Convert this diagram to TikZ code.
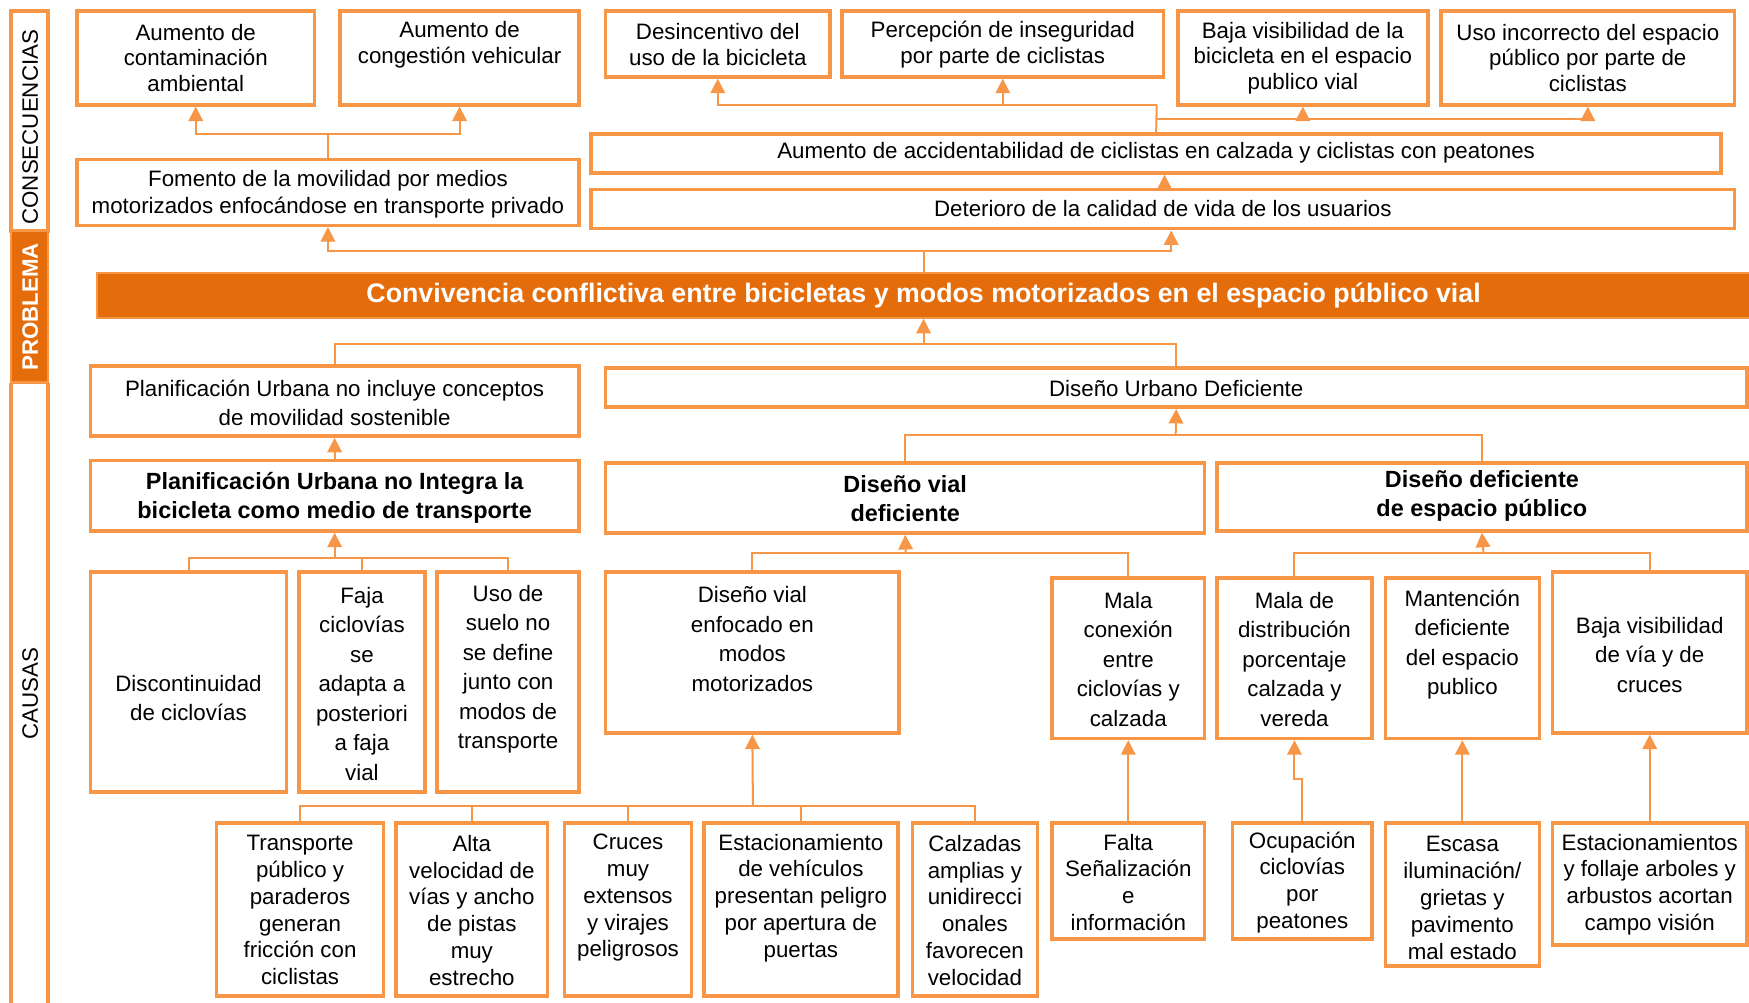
\documentclass[tikz,border=0pt]{standalone}
\usepackage{fontspec}
\setmainfont{Liberation Sans}
\usetikzlibrary{arrows.meta}
\definecolor{ob}{HTML}{F79646}
\definecolor{of}{HTML}{E46C0A}
\tikzset{
  box/.style={draw=ob,line width=1.6pt,inner sep=0pt},
  conn/.style={draw=ob,line width=0.9pt},
  arr/.style={conn,-{Triangle[width=6.5pt,length=6.5pt]}},
  ta/.style={align=center,inner sep=0pt,font=\fontsize{10}{11.5}\selectfont},
  tf/.style={align=center,inner sep=0pt,font=\fontsize{10}{12}\selectfont},
  tm/.style={align=center,inner sep=0pt,font=\fontsize{10}{13.2}\selectfont},
  tp/.style={align=center,inner sep=0pt,font=\fontsize{10}{13}\selectfont},
  tbld/.style={align=center,inner sep=0pt,font=\bfseries\fontsize{10.5}{13}\selectfont},
  side/.style={rotate=90,inner sep=0pt,font=\fontsize{10}{12}\selectfont},
}
\newcommand\bx[8][ta]{%
  \node[box,minimum width={(#5-#3)*0.5pt},minimum height={(#6-#4)*0.5pt}] (#2) at ({(#3+#5)/2},{(#4+#6)/2}) {};
  \node[#1] (#2-t) at ({(#3+#5)/2},#7) {#8};}
\begin{document}
\begin{tikzpicture}[x=0.5pt,y=-0.5pt]
\useasboundingbox (0,0) rectangle (1568,899);
% sidebar
\draw[ob,line width=1.6pt] (10,10) rectangle (43,207);
\filldraw[fill=of,draw=ob,line width=1.2pt] (10,207) rectangle (43,343);
\draw[ob,line width=1.6pt] (10,343) -- (10,899) (43,343) -- (43,899);
\node[side] (s1) at (27,114) {CONSECUENCIAS};
\node[side,text=white,font=\bfseries\fontsize{10}{12}\selectfont] (s2) at (27,275) {PROBLEMA};
\node[side] (s3) at (27,622) {CAUSAS};
% consequences
\bx{c1}{69}{10}{282}{94}{52}{Aumento de\\contaminación\\ambiental}
\bx{c2}{305}{10}{519}{94}{40}{Aumento de\\congestión vehicular}
\bx{c3}{543}{10}{744}{69}{40}{Desincentivo del\\uso de la bicicleta}
\bx{c4}{755}{10}{1043}{69}{40}{Percepción de inseguridad\\por parte de ciclistas}
\bx{c5}{1056}{10}{1280}{94}{52}{Baja visibilidad de la\\bicicleta en el espacio\\publico vial}
\bx{c6}{1292}{10}{1555}{94}{52}{Uso incorrecto del espacio\\público por parte de\\ciclistas}
\bx[tf]{fomento}{69}{143}{519}{202}{174}{Fomento de la movilidad por medios\\motorizados enfocándose en transporte privado}
\bx{accid}{530}{120}{1543}{155}{137}{Aumento de accidentabilidad de ciclistas en calzada y ciclistas con peatones}
\bx{deter}{530}{170}{1555}{205}{187}{Deterioro de la calidad de vida de los usuarios}
% problem
\node[fill=of,draw=ob,line width=0.8pt,inner sep=0pt,minimum width={(1570-87)*0.5pt},minimum height={40*0.5pt}] (prob) at ({(87+1570)/2},265) {};
\node[inner sep=0pt,text=white,font=\bfseries\fontsize{12}{14}\selectfont] (prob-t) at (828,265) {Convivencia conflictiva entre bicicletas y modos motorizados en el espacio público vial};
% causes
\bx[tp]{pinc}{81}{328}{519}{391}{361}{Planificación Urbana no incluye conceptos\\de movilidad sostenible}
\bx{durb}{543}{330}{1566}{365}{348}{Diseño Urbano Deficiente}
\bx[tbld]{pint}{81}{413}{519}{476}{446}{Planificación Urbana no Integra la\\bicicleta como medio de transporte}
\bx[tbld]{dvial}{543}{415}{1080}{478}{447}{Diseño vial\\deficiente}
\bx[tbld]{desp}{1091}{415}{1566}{476}{445}{Diseño deficiente\\de espacio público}
\bx[tm]{disc}{81}{513}{257}{710}{626}{Discontinuidad\\de ciclovías}
\bx[tm]{faja}{268}{513}{381}{710}{613}{Faja\\ciclovías\\se\\adapta a\\posteriori\\a faja\\vial}
\bx[tm]{suelo}{392}{513}{519}{710}{600}{Uso de\\suelo no\\se define\\junto con\\modos de\\transporte}
\bx[tm]{denf}{543}{513}{806}{657}{573}{Diseño vial\\enfocado en\\modos\\motorizados}
\bx[tm]{mcon}{943}{518}{1080}{662}{591}{Mala\\conexión\\entre\\ciclovías y\\calzada}
\bx[tm]{mdis}{1091}{518}{1230}{662}{591}{Mala de\\distribución\\porcentaje\\calzada y\\vereda}
\bx[tm]{mant}{1242}{518}{1380}{662}{578}{Mantención\\deficiente\\del espacio\\publico}
\bx[tm]{bvis}{1392}{513}{1566}{657}{587}{Baja visibilidad\\de vía y de\\cruces}
\bx[tf]{trans}{194}{738}{344}{893}{816}{Transporte\\público y\\paraderos\\generan\\fricción con\\ciclistas}
\bx[tf]{alta}{355}{738}{491}{893}{816}{Alta\\velocidad de\\vías y ancho\\de pistas\\muy\\estrecho}
\bx[tf]{cruces}{506}{738}{620}{893}{805}{Cruces\\muy\\extensos\\y virajes\\peligrosos}
\bx[tf]{estac}{631}{738}{805}{893}{805}{Estacionamiento\\de vehículos\\presentan peligro\\por apertura de\\puertas}
\bx[tf]{calz}{818}{738}{930}{893}{816}{Calzadas\\amplias y\\unidirecci\\onales\\favorecen\\velocidad}
\bx[tf]{falta}{943}{738}{1080}{842}{791}{Falta\\Señalización\\e\\información}
\bx[tf]{ocup}{1105}{738}{1230}{842}{791}{Ocupación\\ciclovías\\por\\peatones}
\bx[tf]{escasa}{1242}{738}{1380}{866}{805}{Escasa\\iluminación/\\grietas y\\pavimento\\mal estado}
\bx[tf]{estf}{1392}{738}{1566}{847}{793}{Estacionamientos\\y follaje arboles y\\arbustos acortan\\campo visión}
% junctions
\coordinate (j1) at (294,120);
\coordinate (j2) at (1037,94);
\coordinate (j3) at (1037,107);
\coordinate (j4) at (828,225);
\coordinate (j5) at (828,308);
\coordinate (j6) at (1054,390);
\coordinate (j7) at (300,500);
\coordinate (j8) at (812,496);
\coordinate (j9) at (1330,496);
\coordinate (j10) at (675,723);
\coordinate (xa) at (1044,0);
\coordinate (xb) at (1050,0);
% connectors
\draw[conn] (fomento.north) -- (j1);
\draw[arr] (j1) -| (c1.south);
\draw[arr] (j1) -| (c2.south);
\draw[conn] (accid.north) -- (j2);
\draw[arr] (j2) -| (c3.south);
\draw[arr] (j2) -| (c4.south);
\draw[arr] (j3) -| (c5.south);
\draw[arr] (j3) -| (c6.south);
\draw[arr] (deter.north -| xa) -- (accid.south -| xa);
\draw[conn] (prob.north -| j4) -- (j4);
\draw[arr] (j4) -| (fomento.south);
\draw[arr] (j4) -| (deter.south -| xb);
\draw[arr] (j5) -- (prob.south -| j5);
\draw[conn] (j5) -| (pinc.north);
\draw[conn] (j5) -| (durb.north);
\draw[arr] (pint.north) -- (pinc.south);
\draw[arr] (j6) -- (durb.south);
\draw[conn] (j6) -| (dvial.north);
\draw[conn] (j6) -| (desp.north);
\draw[arr] (j7) -- (pint.south);
\draw[conn] (j7) -| (disc.north);
\draw[conn] (j7) -| (faja.north);
\draw[conn] (j7) -| (suelo.north);
\draw[arr] (j8) -- (dvial.south);
\draw[conn] (j8) -| (denf.north);
\draw[conn] (j8) -| (mcon.north);
\draw[arr] (j9) -- (desp.south);
\draw[conn] (j9) -| (mdis.north);
\draw[conn] (j9) -| (bvis.north);
\draw[arr] (j10) -- (denf.south);
\draw[conn] (j10) -| (trans.north);
\draw[conn] (j10) -| (alta.north);
\draw[conn] (j10) -| (cruces.north);
\draw[conn] (j10) -| (estac.north);
\draw[conn] (j10) -| (calz.north);
\draw[arr] (falta.north) -- (mcon.south);
\draw[arr] (ocup.north) -- ++(0,-38) -| (mdis.south);
\draw[arr] (escasa.north) -- (mant.south);
\draw[arr] (estf.north) -- (bvis.south);
\end{tikzpicture}
\end{document}
